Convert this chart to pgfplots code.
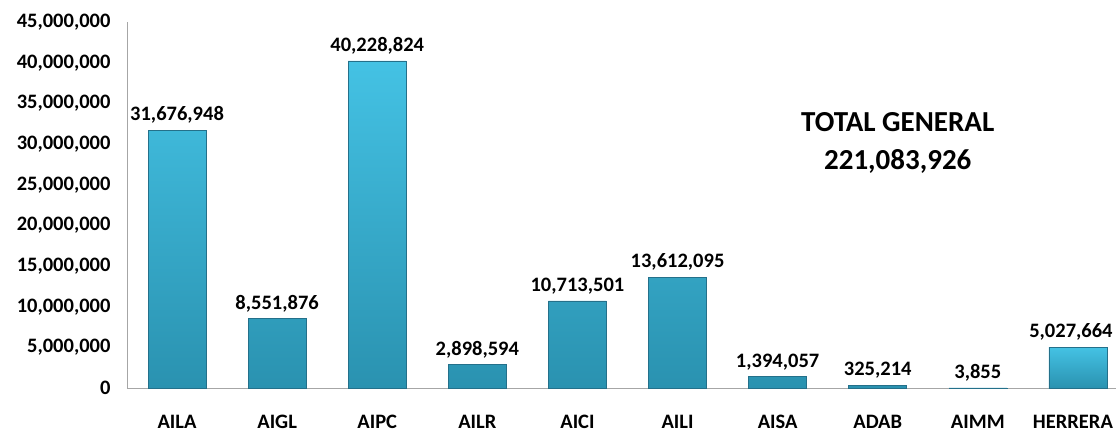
\documentclass[border=0pt]{standalone}
\usepackage{pgfplots}
\pgfplotsset{compat=1.18}
\usepackage{pgfplotstable}
\usepackage{fontspec}
\setmainfont{Carlito}
\definecolor{bartop}{RGB}{68,194,228}
\definecolor{barbot}{RGB}{42,146,176}
\definecolor{baredge}{RGB}{36,112,138}
\pgfplotstableread{
x y label
0 31676948 31,676,948
1 8551876 8,551,876
2 40228824 40,228,824
3 2898594 2,898,594
4 10713501 10,713,501
5 13612095 13,612,095
6 1394057 1,394,057
7 325214 325,214
8 3855 3,855
}\datatable
\pgfplotstableread{
x y label
9 5027664 5,027,664
}\lasttable
\begin{document}
\begin{tikzpicture}
\path[use as bounding box] (-127pt,-44pt) rectangle (989pt,388pt);
\clip (-127pt,-44pt) rectangle (989pt,388pt);
\begin{axis}[
  scale only axis, width=1001pt, height=366pt,
  xmin=-0.5, xmax=9.5, ymin=0, ymax=45000000,
  axis x line=bottom, axis y line=left,
  axis line style={draw=black!35, line width=0.8pt, -},
  major tick length=0pt,
  scaled y ticks=false,
  xtick={0,1,2,3,4,5,6,7,8,9},
  xticklabels={AILA,AIGL,AIPC,AILR,AICI,AILI,AISA,ADAB,AIMM,{\hspace*{-10pt}HERRERA}},
  ytick={0,5000000,10000000,15000000,20000000,25000000,30000000,35000000,40000000,45000000},
  yticklabels={0,{5,000,000},{10,000,000},{15,000,000},{20,000,000},{25,000,000},{30,000,000},{35,000,000},{40,000,000},{45,000,000}},
  ticklabel style={font=\bfseries\fontsize{20.5}{24}\selectfont, text=black},
  xticklabel style={inner sep=0pt, yshift=-27pt},
  yticklabel style={xshift=-13pt},
  ybar, bar width=58pt, bar shift=0pt,
  nodes near coords,
  point meta=explicit symbolic,
  nodes near coords style={font=\bfseries\fontsize{20.5}{24}\selectfont, text=black, yshift=3pt},
  clip=false,
]
\addplot[top color=bartop, bottom color=barbot, draw=baredge, line width=0.6pt]
  table[x=x, y=y, meta=label] {\datatable};
\addplot[top color=bartop, bottom color=barbot, draw=baredge, line width=0.6pt,
  nodes near coords style={xshift=-7pt}]
  table[x=x, y=y, meta=label] {\lasttable};
\node[align=center, font=\bfseries\fontsize{29}{38}\selectfont, text=black]
  at (axis cs:7.2,30150000) {TOTAL GENERAL\\221,083,926};
\end{axis}
\end{tikzpicture}
\end{document}
